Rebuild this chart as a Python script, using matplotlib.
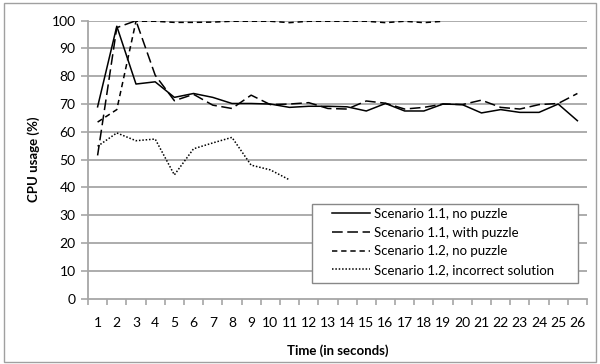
import numpy as np
import matplotlib
matplotlib.use("Agg")
import matplotlib.pyplot as plt
from matplotlib.patches import Rectangle

plt.rcParams['font.family'] = ['Lato', 'DejaVu Sans']

seconds = list(range(1, 27))
s11_no_puzzle = [69, 98, 77.2, 78, 72.4, 73.8, 72.4, 70.2, 70.2, 70, 68.8, 69.2, 69.2, 69,
                 67.5, 70.2, 67.5, 67.5, 70, 69.8, 66.8, 68, 67, 67, 70, 64]
s11_with_puzzle = [51.5, 97.5, 100, 80.4, 71.2, 73.5, 69.6, 68.4, 73.2, 69.8, 70, 70.5, 68.4,
                   68.2, 71.1, 70.3, 68.2, 68.8, 70, 69.8, 71.4, 68.8, 68.2, 69.8, 70.2, 73.8]
s12_no_puzzle = [63.5, 68, 99.8, 99.8, 99.4, 99.4, 99.5, 99.8, 99.8, 99.8, 99.3, 99.8, 99.8,
                 99.8, 99.8, 99.3, 99.8, 99.3, 99.8]
s12_incorrect = [54.8, 59.6, 56.8, 57.4, 44.5, 53.9, 56, 58, 48, 46.3, 42.7]

labels = ["Scenario 1.1, no puzzle", "Scenario 1.1, with puzzle",
          "Scenario 1.2, no puzzle", "Scenario 1.2, incorrect solution"]
yticks = list(range(0, 101, 10))

fig = plt.figure(figsize=(6, 3.64), dpi=100)
fig.patches.append(Rectangle((4/600, 2/364), 592/600, 359/364, transform=fig.transFigure,
                             fill=False, edgecolor='#a0a0a0', linewidth=1.0))
ax = fig.add_axes([88/600, 1-298.5/364, (587-88)/600, (298.5-20.7)/364])

grid_c = '#a6a6a6'
for v in yticks[1:]:
    ax.axhline(v, color=grid_c, linewidth=1.3, zorder=0)

ax.plot(seconds, s11_no_puzzle, color='black', linewidth=1.1, linestyle='-', label=labels[0])
ax.plot(seconds, s11_with_puzzle, color='black', linewidth=1.1, linestyle=(0, (7, 3)), label=labels[1])
ax.plot(seconds[:len(s12_no_puzzle)], s12_no_puzzle, color='black', linewidth=1.1,
        linestyle=(0, (3.5, 2.5)), label=labels[2])
ax.plot(seconds[:len(s12_incorrect)], s12_incorrect, color='black', linewidth=1.1,
        linestyle=(0, (1, 1.2)), label=labels[3])

ax.set_xlim(0.5, 26.5)
ax.set_ylim(0, 100)
ax.set_yticks(yticks)
ax.set_xticks(seconds)
ax.set_xticks(np.arange(0.5, 27, 1), minor=True)
ax.tick_params(axis='x', which='major', length=0, pad=13, labelsize=10)
ax.tick_params(axis='x', which='minor', length=4, color=grid_c, width=1.2, direction='out')
ax.tick_params(axis='y', length=5, color=grid_c, width=1.2, direction='out', labelsize=10, pad=4)
for s in ['top', 'right']:
    ax.spines[s].set_visible(False)
for s in ['left', 'bottom']:
    ax.spines[s].set_color(grid_c)
    ax.spines[s].set_linewidth(1.3)

ax.set_xlabel("Time (in seconds)", fontweight='bold', fontsize=9.5, labelpad=11)
ax.set_ylabel("CPU usage (%)", fontweight='bold', fontsize=9.5, labelpad=8)

# legend frame (drawn separately to match the wide horizontal padding)
x0 = (312-88)/499; x1 = (578-88)/499
y0 = (298.5-283)/277.8; y1 = (298.5-204)/277.8
ax.add_patch(Rectangle((x0, y0), x1-x0, y1-y0, transform=ax.transAxes, facecolor='white',
                       edgecolor='#888888', linewidth=1.0, zorder=4))
leg = ax.legend(loc='upper left', bbox_to_anchor=((332-88)/499, (298.5-208)/277.8),
                frameon=False, fontsize=9.5, handlelength=2.9, handletextpad=0.3,
                borderpad=0, labelspacing=0.5, borderaxespad=0)
leg.set_zorder(5)

fig.savefig("out.png", dpi=100)
